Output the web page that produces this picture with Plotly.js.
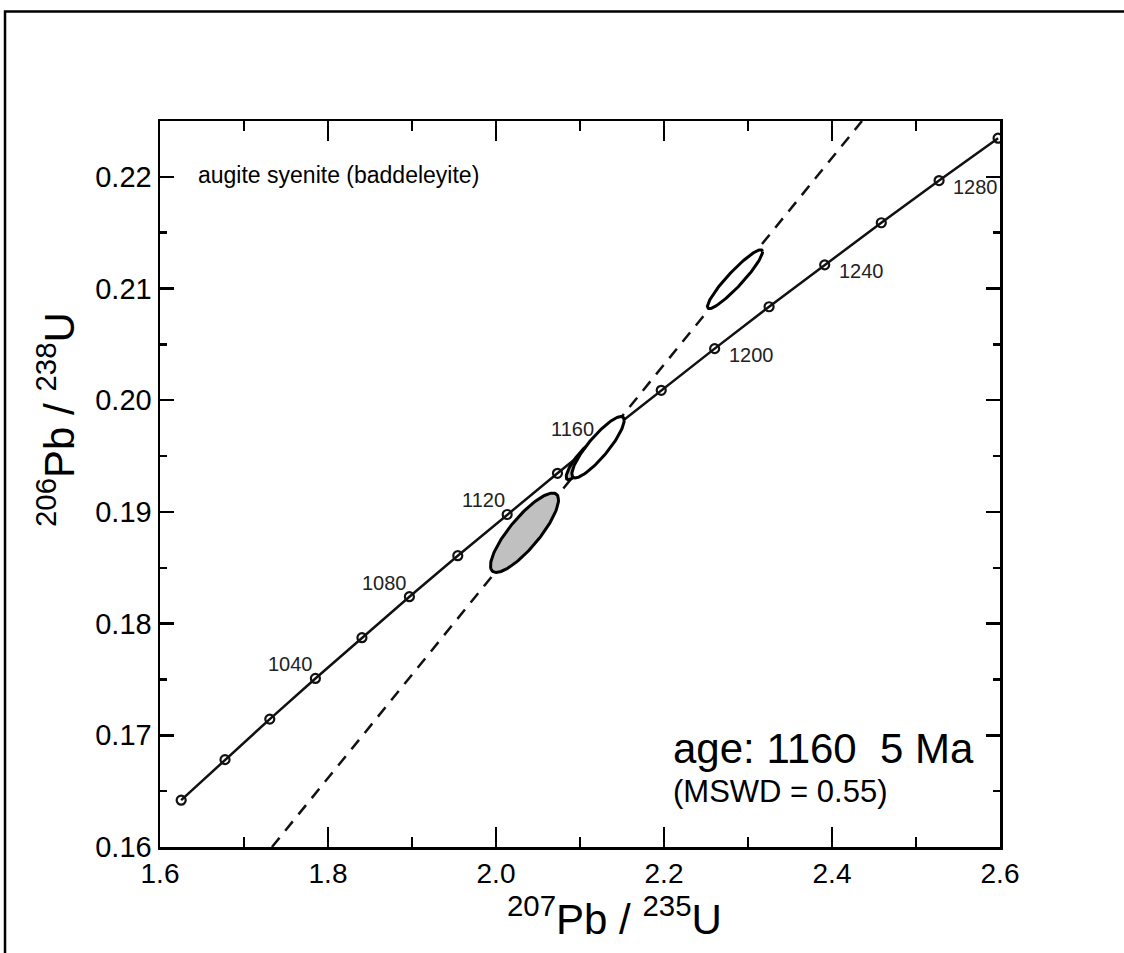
<!DOCTYPE html>
<html>
<head>
<meta charset="utf-8">
<script src="https://cdn.plot.ly/plotly-3.0.1.min.js"></script>
<style>
  html, body { margin: 0; padding: 0; background: #ffffff; }
  #chart { width: 1124px; height: 953px; }
</style>
</head>
<body>
<div id="chart"></div>
<script>
// ---- Data ----
// Concordia age markers (Ma) and their ratios
const concAges = [980, 1000, 1020, 1040, 1060, 1080, 1100, 1120, 1140, 1160, 1180, 1200, 1220, 1240, 1260, 1280, 1300];
const concX = [1.6252, 1.6774, 1.7307, 1.7850, 1.8404, 1.8969, 1.9545, 2.0133, 2.0732, 2.1343, 2.1967, 2.2603, 2.3251, 2.3913, 2.4587, 2.5275, 2.5977];
const concY = [0.16419, 0.16782, 0.17145, 0.17509, 0.17874, 0.18241, 0.18608, 0.18977, 0.19346, 0.19717, 0.20089, 0.20462, 0.20837, 0.21212, 0.21589, 0.21967, 0.22346];

// Labelled ages
const labelAgesLeft = [1040, 1080, 1120, 1160];
const labelAgesRight = [1200, 1240, 1280];

// Discordia (dashed regression line) end points
const discX = [1.7333, 2.4357];
const discY = [0.160, 0.225];

// Error ellipses: centre, sigma x, sigma y, correlation, fill
const ellX   = [2.03393, 2.10238, 2.12143, 2.28452];
const ellY   = [0.188137, 0.194628, 0.195793, 0.210837];
const ellSx  = [0.040496, 0.018861, 0.031135, 0.032801];
const ellSy  = [0.0035534, 0.0017393, 0.0027470, 0.0026369];
const ellRho = [0.8308, 0.8593, 0.8736, 0.9305];
const ellFill = ['#c0c0c0', '#c0c0c0', '#ffffff', '#ffffff'];

// Axis ticks
const xTicks = [1.6, 1.8, 2.0, 2.2, 2.4, 2.6];
const yTicks = [0.16, 0.17, 0.18, 0.19, 0.20, 0.21, 0.22];

// Text
const sampleName = 'augite syenite (baddeleyite)';
const ageText = 'age: 1160  5 Ma';
const mswdText = '(MSWD = 0.55)';
const xTitle = '<sup>207</sup>Pb / <sup>235</sup>U';
const yTitle = '<sup>206</sup>Pb / <sup>238</sup>U';

// ---- Build traces ----
const FONT = 'Liberation Sans, Arial, Helvetica, sans-serif';
const traces = [];

traces.push({
  x: concX, y: concY, type: 'scatter', mode: 'lines+markers',
  line: { color: '#111111', width: 2.5 },
  marker: { symbol: 'circle-open', size: 9, color: '#111111', line: { width: 2.2, color: '#111111' } },
  hoverinfo: 'skip', showlegend: false
});

traces.push({
  x: discX, y: discY, type: 'scatter', mode: 'lines',
  line: { color: '#111111', width: 2.5, dash: '12px,9px' },
  hoverinfo: 'skip', showlegend: false
});

for (let i = 0; i < ellX.length; i++) {
  const xs = [], ys = [];
  const n = 140;
  const k = Math.sqrt(1 - ellRho[i] * ellRho[i]);
  for (let j = 0; j <= n; j++) {
    const t = 2 * Math.PI * j / n;
    xs.push(ellX[i] + ellSx[i] * Math.cos(t));
    ys.push(ellY[i] + ellSy[i] * (ellRho[i] * Math.cos(t) + k * Math.sin(t)));
  }
  traces.push({
    x: xs, y: ys, type: 'scatter', mode: 'lines', fill: 'toself',
    fillcolor: ellFill[i], line: { color: '#000000', width: 3 },
    hoverinfo: 'skip', showlegend: false
  });
}

// ---- Annotations ----
const annotations = [];
const ageFont = { family: FONT, size: 20, color: '#222222' };
labelAgesLeft.forEach(a => {
  const i = concAges.indexOf(a);
  const special = (a === 1160);
  annotations.push({
    x: concX[i], y: concY[i], xref: 'x', yref: 'y', text: String(a), showarrow: false,
    xanchor: 'right', yanchor: 'bottom',
    xshift: special ? -13 : 0, yshift: special ? -10 : 1,
    font: ageFont
  });
});
labelAgesRight.forEach(a => {
  const i = concAges.indexOf(a);
  annotations.push({
    x: concX[i], y: concY[i], xref: 'x', yref: 'y', text: String(a), showarrow: false,
    xanchor: 'left', yanchor: 'middle', xshift: 12, yshift: -6,
    font: ageFont
  });
});

annotations.push({
  x: 0.0429, y: 0.9256, xref: 'paper', yref: 'paper', text: sampleName, showarrow: false,
  xanchor: 'left', yanchor: 'middle', font: { family: FONT, size: 23, color: '#000' }
});
annotations.push({
  x: 0.6083, y: 0.1357, xref: 'paper', yref: 'paper', text: ageText, showarrow: false,
  xanchor: 'left', yanchor: 'middle', font: { family: FONT, size: 42, color: '#000' }
});
annotations.push({
  x: 0.6083, y: 0.0771, xref: 'paper', yref: 'paper', text: mswdText, showarrow: false,
  xanchor: 'left', yanchor: 'middle', font: { family: FONT, size: 31, color: '#000' }
});
annotations.push({
  x: 0.5405, y: -0.095, xref: 'paper', yref: 'paper', text: xTitle, showarrow: false,
  xanchor: 'center', yanchor: 'middle', font: { family: FONT, size: 42, color: '#000' }
});
annotations.push({
  x: -0.1238, y: 0.5882, xref: 'paper', yref: 'paper', text: yTitle, showarrow: false,
  textangle: -90, xanchor: 'center', yanchor: 'middle', font: { family: FONT, size: 42, color: '#000' }
});

const layout = {
  width: 1124, height: 953,
  margin: { l: 160, r: 124, t: 121, b: 106 },
  paper_bgcolor: '#ffffff', plot_bgcolor: '#ffffff',
  showlegend: false,
  font: { family: FONT, color: '#000' },
  xaxis: {
    range: [1.6, 2.6], tickmode: 'array', tickvals: xTicks, ticktext: xTicks.map(v => v.toFixed(1)),
    ticks: 'inside', ticklen: 20, tickwidth: 2.5, tickcolor: '#000',
    showline: true, linewidth: 2.5, linecolor: '#000', mirror: 'allticks',
    showgrid: false, zeroline: false,
    tickfont: { family: FONT, size: 28, color: '#000' },
    minor: { dtick: 0.1, tick0: 1.6, ticks: 'inside', ticklen: 10, tickwidth: 2.5, tickcolor: '#000', showgrid: false }
  },
  yaxis: {
    range: [0.16, 0.225], tickmode: 'array', tickvals: yTicks, ticktext: yTicks.map(v => v.toFixed(2)),
    ticks: 'inside', ticklen: 14, tickwidth: 2.5, tickcolor: '#000',
    showline: true, linewidth: 2.5, linecolor: '#000', mirror: 'allticks',
    showgrid: false, zeroline: false,
    tickfont: { family: FONT, size: 29, color: '#000' },
    minor: { dtick: 0.005, tick0: 0.16, ticks: 'inside', ticklen: 7, tickwidth: 2.5, tickcolor: '#000', showgrid: false }
  },
  annotations: annotations,
  shapes: [{
    type: 'path', xref: 'paper', yref: 'paper',
    path: 'M -0.1845 -0.2 L -0.1845 1.1508 L 1.2 1.1508',
    line: { color: '#000', width: 2.5 }
  }]
};

Plotly.newPlot('chart', traces, layout, { displayModeBar: false, staticPlot: true });
</script>
</body>
</html>
